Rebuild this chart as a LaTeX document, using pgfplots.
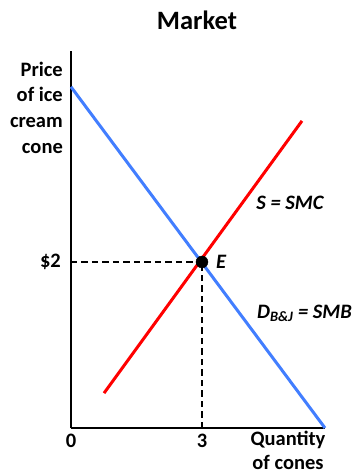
\documentclass[border=0pt]{standalone}
\usepackage{pgfplots}
\pgfplotsset{compat=1.18}
\usepackage{fontspec}
\setmainfont{Carlito}
\definecolor{dblue}{RGB}{66,126,255}
\definecolor{sred}{RGB}{255,0,0}
\begin{document}
\begin{tikzpicture}
\begin{axis}[
  name=ax,
  at={(0,0)}, anchor=south west,
  scale only axis, width=254pt, height=377pt,
  xmin=0, xmax=5.817, ymin=0, ymax=4.542,
  axis x line=bottom, axis y line=left,
  axis line style={-, line width=1.3pt, black},
  xtick={0,3}, xticklabels={0,3},
  ytick={2}, yticklabels={\$2},
  major tick length=0pt,
  /pgf/number format/assume math mode=true,
  xticklabel style={font=\fontsize{20.5}{24}\selectfont\bfseries, inner sep=0pt, anchor=north, yshift=-6pt},
  yticklabel style={font=\fontsize{20.5}{24}\selectfont\bfseries, inner sep=0pt, anchor=east, xshift=-10pt},
  clip=false,
]
\addplot[black, line width=1.2pt, dash pattern=on 6.5pt off 4pt] coordinates {(0,2) (3,2)};
\addplot[black, line width=1.2pt, dash pattern=on 6.5pt off 4pt] coordinates {(3,0) (3,2)};
\addplot[dblue, line width=3pt] coordinates {(0,4.11) (5.817,0)};
\addplot[sred, line width=3pt] coordinates {(0.756,0.42) (5.29,3.70)};
\addplot[only marks, mark=*, mark size=6pt, black] coordinates {(3,2)};
\node[font=\fontsize{26.5}{30}\selectfont\bfseries] at (axis cs:2.885,4.916) {Market};
\node[font=\fontsize{20.5}{25.6}\selectfont\bfseries, align=right, anchor=east, inner sep=0pt] at (axis cs:-0.183,3.861) {Price\\of ice\\cream\\cone};
\node[font=\fontsize{20.5}{23.5}\selectfont\bfseries, align=center, anchor=north, inner sep=0pt] at (axis cs:4.969,-0.04) {Quantity\\of cones};
\node[font=\fontsize{20.5}{24}\selectfont\bfseries\itshape] at (axis cs:5.015,2.711) {S = SMC};
\node[font=\fontsize{20.5}{24}\selectfont\bfseries\itshape, anchor=west, inner sep=0pt] at (axis cs:3.32,2.0) {E};
\node[font=\fontsize{20.5}{24}\selectfont\bfseries\itshape] at (axis cs:5.347,1.386) {D\textsubscript{B\&J} = SMB};
\end{axis}
\pgfresetboundingbox
\path[use as bounding box] ([shift={(-71pt,-47pt)}]ax.south west) rectangle ([shift={(283pt,428pt)}]ax.south west);
\end{tikzpicture}
\end{document}
